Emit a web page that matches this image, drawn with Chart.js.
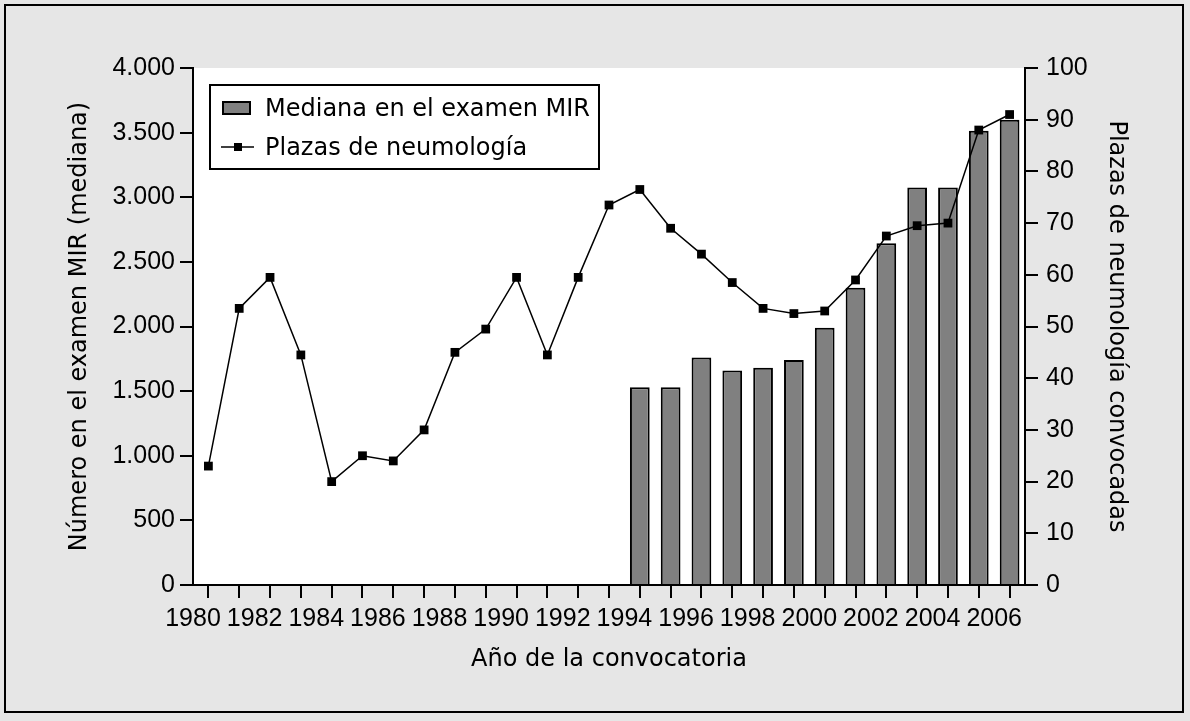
<!DOCTYPE html>
<html>
<head>
<meta charset="utf-8">
<script src="https://cdn.jsdelivr.net/npm/chart.js@4.4.0/dist/chart.umd.min.js"></script>
<style>
html, body { margin: 0; padding: 0; background: #e6e6e6; }
#wrap { width: 1190px; height: 721px; }
</style>
</head>
<body>
<div id="wrap"><canvas id="chart" width="1190" height="721"></canvas></div>
<script>
// years of the call (one point per year, drawn in the middle of the year)
var years = [1980, 1981, 1982, 1983, 1984, 1985, 1986, 1987, 1988, 1989, 1990, 1991, 1992, 1993,
  1994, 1995, 1996, 1997, 1998, 1999, 2000, 2001, 2002, 2003, 2004, 2005, 2006];
var plazas = [23, 53.5, 59.5, 44.5, 20, 25, 24, 30, 45, 49.5, 59.5, 44.5, 59.5, 73.5,
  76.5, 69, 64, 58.5, 53.5, 52.5, 53, 59, 67.5, 69.5, 70, 88, 91];

var medianYears = [1994, 1995, 1996, 1997, 1998, 1999, 2000, 2001, 2002, 2003, 2004, 2005, 2006];
var medianas = [1530, 1530, 1760, 1660, 1680, 1740, 1990, 2300, 2645, 3075, 3075, 3515, 3600];

var xLabelYears = [1980, 1982, 1984, 1986, 1988, 1990, 1992, 1994, 1996, 1998, 2000, 2002, 2004, 2006];

var tickFont = { family: "'Liberation Sans', Arial, sans-serif", size: 25 };
var textFont = { family: "'DejaVu Sans', sans-serif", size: 24 };

function miles(v) {
  return String(v).replace(/\B(?=(\d{3})+(?!\d))/g, ".");
}

var frame = {
  id: "frame",
  beforeDraw: function (chart) {
    var ctx = chart.ctx, ca = chart.chartArea;
    ctx.save();
    ctx.fillStyle = "#e6e6e6";
    ctx.fillRect(0, 0, chart.width, chart.height);
    ctx.fillStyle = "#ffffff";
    ctx.fillRect(ca.left, ca.top, ca.right - ca.left, ca.bottom - ca.top);
    ctx.strokeStyle = "#000";
    ctx.lineWidth = 2;
    ctx.strokeRect(5, 5, 1178, 707);
    ctx.restore();
  }
};

var boxLegend = {
  id: "boxLegend",
  afterDraw: function (chart) {
    var ctx = chart.ctx, ca = chart.chartArea;
    var ds = chart.data.datasets;
    var x0 = ca.left + 17, y0 = ca.top + 17;
    ctx.save();
    ctx.fillStyle = "#fff";
    ctx.fillRect(x0, y0, 389, 84);
    ctx.strokeStyle = "#000";
    ctx.lineWidth = 2;
    ctx.strokeRect(x0, y0, 389, 84);

    // bar swatch
    ctx.fillStyle = "#808080";
    ctx.fillRect(x0 + 13, y0 + 17, 27, 12);
    ctx.strokeRect(x0 + 13, y0 + 17, 27, 12);

    // line swatch
    ctx.lineWidth = 1.5;
    ctx.beginPath();
    ctx.moveTo(x0 + 11, y0 + 62);
    ctx.lineTo(x0 + 44, y0 + 62);
    ctx.stroke();
    ctx.fillStyle = "#000";
    ctx.fillRect(x0 + 24, y0 + 58, 8, 8);

    ctx.font = textFont.size + "px " + textFont.family;
    ctx.textBaseline = "alphabetic";
    ctx.textAlign = "left";
    ctx.fillText(ds[1].label, x0 + 55, y0 + 31);
    ctx.fillText(ds[0].label, x0 + 55, y0 + 70);
    ctx.restore();
  }
};

var ctx = document.getElementById("chart").getContext("2d");
var chart = new Chart(ctx, {
  type: "bar",
  data: {
    datasets: [{
      type: "line",
      label: "Plazas de neumología",
      data: years.map(function (y, i) { return { x: y + 0.5, y: plazas[i] }; }),
      yAxisID: "y1",
      borderColor: "#000",
      borderWidth: 1.5,
      tension: 0,
      pointStyle: "rect",
      pointRadius: 6.2,
      pointBorderWidth: 0,
      pointBackgroundColor: "#000",
      order: 0
    }, {
      type: "bar",
      label: "Mediana en el examen MIR",
      data: medianYears.map(function (y, i) { return { x: y + 0.5, y: medianas[i] }; }),
      yAxisID: "y",
      backgroundColor: "#808080",
      borderColor: "#000",
      borderWidth: 2,
      barPercentage: 0.8,
      categoryPercentage: 0.8,
      order: 1
    }]
  },
  options: {
    responsive: false,
    animation: false,
    devicePixelRatio: 1,
    layout: { padding: { top: 68, left: 0, right: 0, bottom: 0 } },
    plugins: {
      legend: { display: false },
      tooltip: { enabled: false }
    },
    scales: {
      x: {
        type: "linear",
        min: 1980,
        max: 2007,
        offset: false,
        afterFit: function (s) { s.height = 136; },
        ticks: {
          stepSize: 1,
          maxTicksLimit: 40,
          autoSkip: false,
          maxRotation: 0,
          minRotation: 0,
          color: "#000",
          font: tickFont,
          padding: 6,
          callback: function (v) {
            return xLabelYears.indexOf(v) >= 0 ? String(v) : "";
          }
        },
        grid: { drawOnChartArea: false, drawTicks: true, tickLength: 13, color: "#000", lineWidth: 2 },
        border: { display: true, color: "#000", width: 2 },
        title: {
          display: true,
          text: "Año de la convocatoria",
          color: "#000",
          font: textFont,
          padding: { top: 0, bottom: 47 }
        }
      },
      y: {
        position: "left",
        min: 0,
        max: 4000,
        afterFit: function (s) { s.width = 193; },
        ticks: {
          stepSize: 500,
          color: "#000",
          font: tickFont,
          padding: 5,
          callback: function (v) { return miles(v); }
        },
        grid: { drawOnChartArea: false, drawTicks: true, tickLength: 13, color: "#000", lineWidth: 2 },
        border: { display: true, color: "#000", width: 2 },
        title: {
          display: true,
          text: "Número en el examen MIR (mediana)",
          color: "#000",
          font: textFont,
          padding: { top: 65, bottom: 0 }
        }
      },
      y1: {
        position: "right",
        min: 0,
        max: 100,
        afterFit: function (s) { s.width = 165; },
        ticks: {
          stepSize: 10,
          color: "#000",
          font: tickFont,
          padding: 8
        },
        grid: { drawOnChartArea: false, drawTicks: true, tickLength: 13, color: "#000", lineWidth: 2 },
        border: { display: true, color: "#000", width: 2 },
        title: {
          display: true,
          text: "Plazas de neumología convocadas",
          color: "#000",
          font: textFont,
          padding: { top: 59, bottom: 0 }
        }
      }
    }
  },
  plugins: [frame, boxLegend]
});
</script>
</body>
</html>
